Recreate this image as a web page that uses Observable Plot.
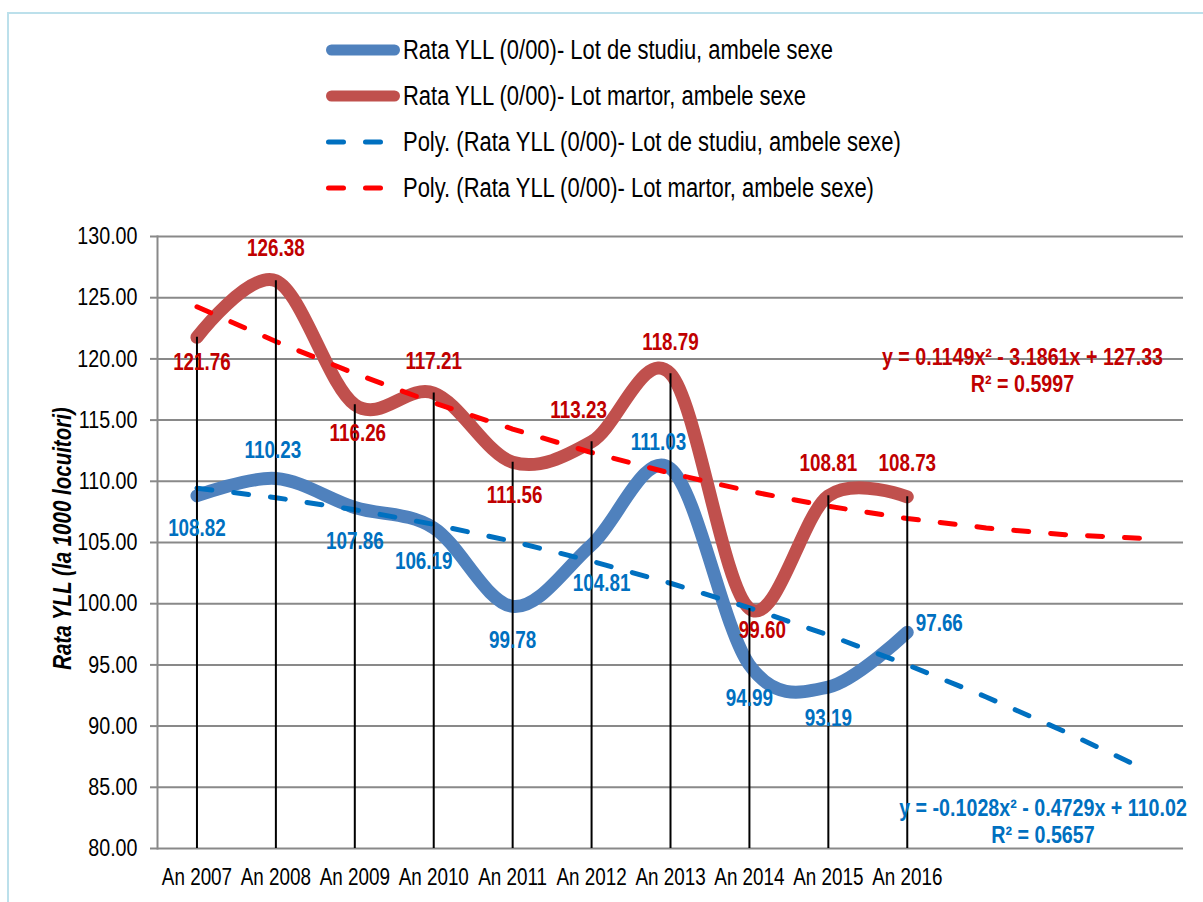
<!DOCTYPE html>
<html>
<head>
<meta charset="utf-8">
<script src="https://cdn.jsdelivr.net/npm/d3@7"></script>
<script src="https://cdn.jsdelivr.net/npm/@observablehq/plot@0.6"></script>
<style>
html,body{margin:0;padding:0;background:#fff;width:1203px;height:902px;overflow:hidden}
#frame{position:absolute;left:7px;top:12px;width:1220px;height:920px;border-left:2px solid #BCE0EB;border-top:2px solid #BCE0EB;box-sizing:border-box}
#legend{position:absolute;left:0;top:0}
#chart{position:absolute;left:0;top:200px}
</style>
</head>
<body>
<div id="frame"></div>
<div id="legend"></div>
<div id="chart"></div>
<script>
// ---- data ----
const categories = ["An 2007","An 2008","An 2009","An 2010","An 2011","An 2012","An 2013","An 2014","An 2015","An 2016"];
const studiu = [108.82,110.23,107.86,106.19,99.78,104.81,111.03,94.99,93.19,97.66];
const martor = [121.76,126.38,116.26,117.21,111.56,113.23,118.79,99.60,108.81,108.73];
// polynomial trend lines (periods 1..13)
const trendStudiu = [109.44,108.66,107.68,106.48,105.09,103.48,101.67,99.66,97.44,95.01,92.38,89.54,86.50];
const trendMartor = [124.26,121.42,118.81,116.42,114.27,112.35,110.66,109.19,107.96,106.96,106.19,105.64,105.33];
const yTicks = [80,85,90,95,100,105,110,115,120,125,130];
const seriesNames = [
  "Rata YLL (0/00)- Lot de studiu, ambele sexe",
  "Rata YLL (0/00)- Lot martor, ambele sexe",
  "Poly. (Rata YLL (0/00)- Lot de studiu, ambele sexe)",
  "Poly. (Rata YLL (0/00)- Lot martor, ambele sexe)"
];
const equationStudiu = "y = -0.1028x² - 0.4729x + 110.02\nR² = 0.5657";
const equationMartor = "y = 0.1149x² - 3.1861x + 127.33\nR² = 0.5997";
const yTitle = "Rata YLL (la 1000 locuitori)";

// label placement offsets (px) for data labels
const studiuLabelDx = [0,-3,0,-10,0,10,-12,0,0,32];
const studiuLabelDy = [33,-28,34,34,34,39,-26,34,32,-9];
const martorLabelDx = [5,0,3,0,2,-13,0,13,0,0];
const martorLabelDy = [25,-32,29,-31,33,-31,-31,22,-32,-33];

// ---- fonts ----
function fontAvailable(name){
  const ctx=document.createElement("canvas").getContext("2d");
  const s="Rata YLL (0/00) 0123456789 ambele";
  ctx.font="40px monospace"; const a=ctx.measureText(s).width;
  ctx.font=`40px "${name}", monospace`; const b=ctx.measureText(s).width;
  return Math.abs(a-b)>0.5;
}
const narrow = fontAvailable("Liberation Sans Narrow");
const FONT = narrow ? '"Liberation Sans Narrow", "Arial Narrow", sans-serif' : '"Liberation Sans", Arial, sans-serif';
const SX = narrow ? 1 : 0.82;

const C = {
  blue:"#4F81BD", red:"#C0504D", tBlue:"#0070C0", tRed:"#FF0000",
  lBlue:"#0070C0", lRed:"#C00000", grid:"#898989"
};

// ---- legend (SVG above chart) ----
(function(){
  const svg = d3.select("#legend").append("svg").attr("width",1203).attr("height",220)
    .style("font-family",FONT);
  const rows = [50,96,142,188];
  const styles = [
    {stroke:C.blue,w:11,dash:null},
    {stroke:C.red,w:11,dash:null},
    {stroke:C.tBlue,w:5,dash:"15,22"},
    {stroke:C.tRed,w:5,dash:"15,22"}
  ];
  rows.forEach((y,i)=>{
    const s=styles[i];
    if(!s.dash){
      svg.append("line").attr("x1",331.5).attr("x2",394.5).attr("y1",y).attr("y2",y)
        .attr("stroke",s.stroke).attr("stroke-width",s.w).attr("stroke-linecap","round");
    } else {
      svg.append("line").attr("x1",328.5).attr("x2",400).attr("y1",y).attr("y2",y)
        .attr("stroke",s.stroke).attr("stroke-width",s.w).attr("stroke-linecap","round")
        .attr("stroke-dasharray",s.dash);
    }
    svg.append("text").attr("transform",`translate(403,${y}) scale(${SX},1)`)
      .attr("dy","0.35em").attr("font-size",26.8).attr("fill","#000").text(seriesNames[i]);
  });
})();

// ---- chart ----
const dS = studiu.map((v,i)=>({x:i+1, v, dx:studiuLabelDx[i], dy:studiuLabelDy[i]}));
const dM = martor.map((v,i)=>({x:i+1, v, top:Math.max(v, studiu[i]), dx:martorLabelDx[i], dy:martorLabelDy[i]}));
const tS = trendStudiu.map((v,i)=>({x:i+1, v}));
const tM = trendMartor.map((v,i)=>({x:i+1, v}));
const fmt = d3.format(".2f");
const yMin = d3.min(yTicks), yMax = d3.max(yTicks);

const labelMarks = [];
dS.forEach(d=>labelMarks.push(Plot.text([d],{x:"x",y:"v",text:d=>fmt(d.v),dx:d.dx,dy:d.dy,
  fill:C.lBlue,fontWeight:"bold",fontSize:23,textAnchor:"middle",lineAnchor:"middle"})));
dM.forEach(d=>labelMarks.push(Plot.text([d],{x:"x",y:"v",text:d=>fmt(d.v),dx:d.dx,dy:d.dy,
  fill:C.lRed,fontWeight:"bold",fontSize:23,textAnchor:"middle",lineAnchor:"middle"})));

const plot = Plot.plot({
  width:1203, height:702,
  marginLeft:157, marginRight:20, marginTop:36, marginBottom:54,
  x:{type:"linear", domain:[0.5, trendStudiu.length+0.5], axis:null},
  y:{domain:[yMin,yMax], axis:null},
  style:{fontFamily:FONT, background:"transparent", color:"#000", overflow:"visible"},
  marks:[
    Plot.gridY(yTicks,{stroke:C.grid, strokeOpacity:1, strokeWidth:2}),
    Plot.axisY(yTicks,{tickSize:7, tickPadding:13, tickFormat:fmt, fontSize:24,
      stroke:C.grid, strokeWidth:2, label:null}),
    Plot.frame({anchor:"left", stroke:C.grid, strokeWidth:2}),
    Plot.line(dS,{x:"x",y:"v",curve:"cardinal",stroke:C.blue,strokeWidth:13,strokeLinecap:"round",strokeLinejoin:"round"}),
    Plot.line(dM,{x:"x",y:"v",curve:"cardinal",stroke:C.red,strokeWidth:13,strokeLinecap:"round",strokeLinejoin:"round"}),
    Plot.line(tS,{x:"x",y:"v",stroke:C.tBlue,strokeWidth:5,strokeDasharray:"15,22",strokeLinecap:"round"}),
    Plot.line(tM,{x:"x",y:"v",stroke:C.tRed,strokeWidth:5,strokeDasharray:"15,22",strokeLinecap:"round"}),
    Plot.ruleX(dM,{x:"x",y1:()=>yMin,y2:"top",stroke:"#000",strokeWidth:2}),
    ...labelMarks,
    Plot.text(categories,{x:(d,i)=>i+1, frameAnchor:"bottom", dy:29, text:d=>d,
      fontSize:23, fill:"#000", lineAnchor:"middle"}),
    Plot.text([yTitle],{frameAnchor:"left", dx:-95, dy:-4, rotate:-90, text:d=>d,
      textAnchor:"middle", fontSize:25, fontWeight:"bold", fontStyle:"italic", fill:"#000", lineAnchor:"middle"}),
    Plot.text([equationMartor],{x:()=>11.46, y:()=>119.09, text:d=>d, fill:C.lRed,
      fontWeight:"bold", fontSize:24, lineHeight:1.12, lineAnchor:"middle"}),
    Plot.text([equationStudiu],{x:()=>11.72, y:()=>82.25, text:d=>d, fill:C.lBlue,
      fontWeight:"bold", fontSize:24, lineHeight:1.12, lineAnchor:"middle"})
  ]
});
if (SX !== 1) {
  plot.querySelectorAll("text").forEach(t=>{
    const tr = t.getAttribute("transform") || "";
    t.setAttribute("transform", (tr + ` scale(${SX},1)`).trim());
  });
}
document.getElementById("chart").appendChild(plot);
</script>
</body>
</html>
